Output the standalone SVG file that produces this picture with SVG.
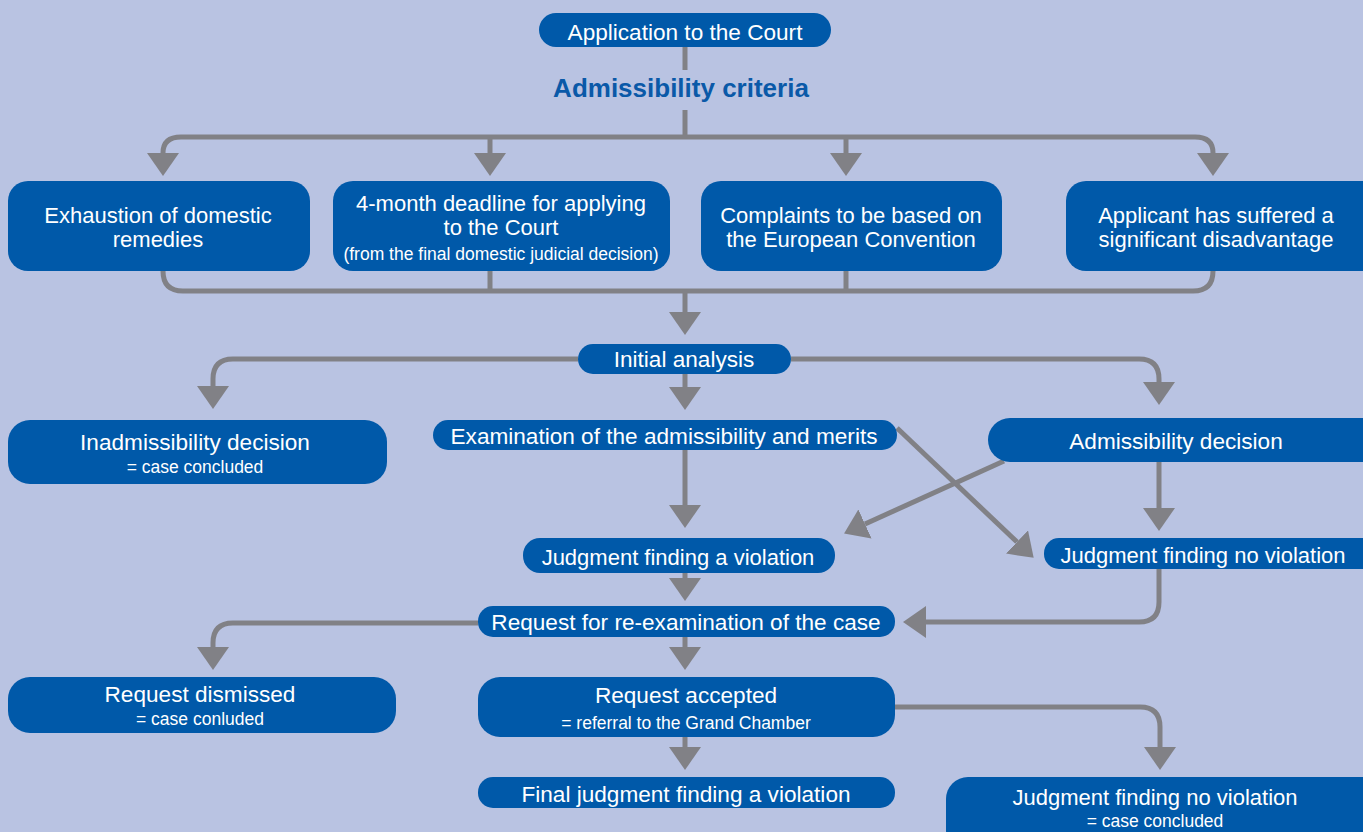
<svg xmlns="http://www.w3.org/2000/svg" width="1363" height="832" viewBox="0 0 1363 832">
<defs>
<marker id="ah" markerUnits="userSpaceOnUse" markerWidth="23" markerHeight="32" viewBox="0 0 23 32" refX="0" refY="16" orient="auto">
<path d="M0,0 L23,16 L0,32 z" fill="#818186"/>
</marker>
<style>
.box{fill:#0059A9}
.t{font-family:"Liberation Sans",Arial,sans-serif;font-size:22.6px;fill:#ffffff;text-anchor:middle}
.k{font-family:"Liberation Sans",Arial,sans-serif;font-size:22px;fill:#ffffff;text-anchor:middle}
.s{font-family:"Liberation Sans",Arial,sans-serif;font-size:17.5px;fill:#ffffff;text-anchor:middle}
.c{fill:none;stroke:#818186;stroke-width:5}
.a{marker-end:url(#ah)}
</style>
</defs>
<rect x="0" y="0" width="1363" height="832" fill="#B9C3E2"/>
<g id="connectors">
<path class="c" d="M685,47 V70 M685,110 V137"/>
<path class="c a" d="M685,137 H181 Q163,137 163,153"/>
<path class="c a" d="M490,137 V153"/>
<path class="c a" d="M846,137 V153"/>
<path class="c a" d="M685,137 H1195 Q1213,137 1213,153"/>
<path class="c" d="M163,271 Q163,291 183,291 H1193 Q1213,291 1213,271 M490,271 V291 M846,271 V291"/>
<path class="c a" d="M685,291 V312"/>
<path class="c a" d="M578,359 H233 Q213,359 213,379 V386"/>
<path class="c a" d="M685,374 V387"/>
<path class="c a" d="M791,359 H1139 Q1159,359 1159,379 V382"/>
<path class="c a" d="M685,450 V505"/>
<path class="c a" d="M1159,462 V508"/>
<path class="c a" d="M897,428 L1017,542"/>
<path class="c a" d="M1004,461 L865,524"/>
<path class="c a" d="M685,573 V578"/>
<path class="c a" d="M1159,569 V602 Q1159,622 1139,622 H926"/>
<path class="c a" d="M478,623 H233 Q213,623 213,643 V647"/>
<path class="c a" d="M685,637 V647"/>
<path class="c a" d="M685,737 V747"/>
<path class="c a" d="M895,707 H1140 Q1160,707 1160,727 V747"/>
</g>
<g id="application">
<rect class="box" x="539" y="13" width="292" height="34" rx="17"/>
<text class="t" x="685" y="40" font-size="23.4">Application to the Court</text>
</g>
<g id="criteria-label">
<text x="681" y="97" font-family="Liberation Sans,Arial,sans-serif" font-size="26" font-weight="bold" fill="#0A59A8" text-anchor="middle">Admissibility criteria</text>
</g>
<g id="exhaustion">
<rect class="box" x="8" y="181" width="302" height="90" rx="20"/>
<text class="k" x="158" y="223">Exhaustion of domestic</text>
<text class="k" x="158" y="247">remedies</text>
</g>
<g id="deadline">
<rect class="box" x="333" y="181" width="337" height="90" rx="20"/>
<text class="k" x="501" y="211">4-month deadline for applying</text>
<text class="k" x="501" y="235">to the Court</text>
<text class="s" x="501" y="260" font-size="17.8">(from the final domestic judicial decision)</text>
</g>
<g id="complaints">
<rect class="box" x="701" y="181" width="301" height="90" rx="20"/>
<text class="k" x="851" y="223">Complaints to be based on</text>
<text class="k" x="851" y="247">the European Convention</text>
</g>
<g id="disadvantage">
<rect class="box" x="1066" y="181" width="320" height="90" rx="20"/>
<text class="k" x="1216" y="223">Applicant has suffered a</text>
<text class="k" x="1216" y="247">significant disadvantage</text>
</g>
<g id="initial">
<rect class="box" x="578" y="344" width="213" height="30" rx="15"/>
<text class="t" x="684" y="367">Initial analysis</text>
</g>
<g id="inadmissibility">
<rect class="box" x="8" y="420" width="379" height="64" rx="22"/>
<text class="t" x="195" y="450">Inadmissibility decision</text>
<text class="s" x="195" y="473">= case concluded</text>
</g>
<g id="examination">
<rect class="box" x="433" y="420" width="464" height="30" rx="15"/>
<text class="t" x="664" y="444">Examination of the admissibility and merits</text>
</g>
<g id="admissibility">
<rect class="box" x="988" y="418" width="400" height="44" rx="22"/>
<text class="t" x="1176" y="449">Admissibility decision</text>
</g>
<g id="violation">
<rect class="box" x="523" y="538" width="312" height="35" rx="17"/>
<text class="k" x="678" y="565">Judgment finding a violation</text>
</g>
<g id="noviolation">
<rect class="box" x="1044" y="538" width="340" height="31" rx="15"/>
<text class="k" x="1203" y="563">Judgment finding no violation</text>
</g>
<g id="reexam">
<rect class="box" x="478" y="606" width="417" height="31" rx="15"/>
<text class="t" x="686" y="630">Request for re-examination of the case</text>
</g>
<g id="dismissed">
<rect class="box" x="8" y="677" width="388" height="56" rx="22"/>
<text class="t" x="200" y="702">Request dismissed</text>
<text class="s" x="200" y="725">= case conluded</text>
</g>
<g id="accepted">
<rect class="box" x="478" y="677" width="417" height="60" rx="22"/>
<text class="t" x="686" y="703">Request accepted</text>
<text class="s" x="686" y="729">= referral to the Grand Chamber</text>
</g>
<g id="final">
<rect class="box" x="478" y="777" width="417" height="31" rx="15"/>
<text class="t" x="686" y="802">Final judgment finding a violation</text>
</g>
<g id="final-noviolation">
<rect class="box" x="946" y="777" width="440" height="75" rx="22"/>
<text class="k" x="1155" y="805">Judgment finding no violation</text>
<text class="s" x="1155" y="827">= case concluded</text>
</g>
</svg>
